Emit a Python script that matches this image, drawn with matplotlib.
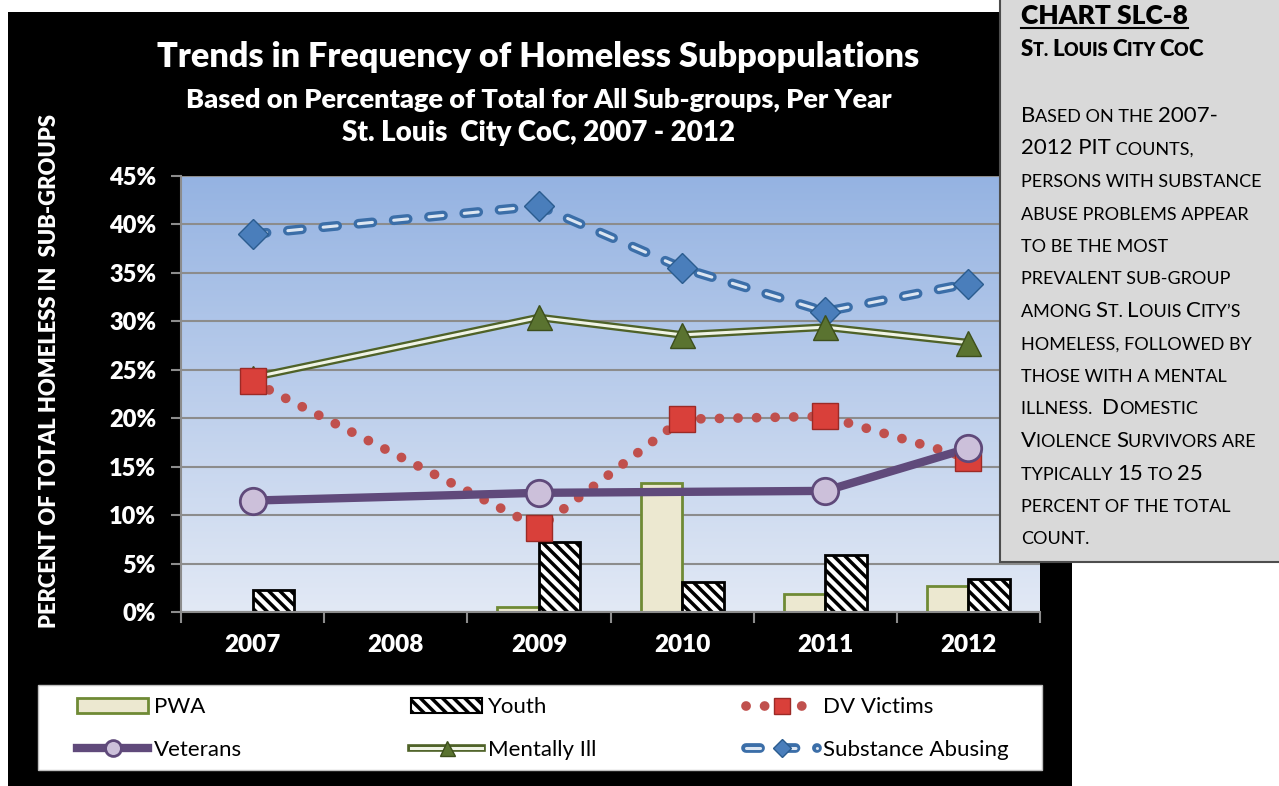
import numpy as np
import matplotlib
matplotlib.use("Agg")
import matplotlib.pyplot as plt
import matplotlib.patheffects as pe
from matplotlib.patches import Rectangle, Patch
from matplotlib.lines import Line2D
from matplotlib.colors import LinearSegmentedColormap

plt.rcParams["font.family"] = ["Lato", "DejaVu Sans"]
plt.rcParams["hatch.linewidth"] = 2.5
plt.rcParams["hatch.color"] = "black"

# data (percent of total homeless in sub-groups), None = no value
years = ["2007", "2008", "2009", "2010", "2011", "2012"]
pwa = [0.0, None, 0.5, 13.3, 1.9, 2.7]
youth = [2.3, None, 7.2, 3.1, 5.9, 3.4]
dv_victims = [23.8, None, 8.7, 19.9, 20.2, 15.9]
veterans = [11.5, None, 12.3, None, 12.5, 16.9]
mentally_ill = [24.2, None, 30.4, 28.6, 29.4, 27.8]
substance = [39.0, None, 41.9, 35.5, 31.0, 33.9]
y_ticks = [0, 5, 10, 15, 20, 25, 30, 35, 40, 45]

W, H = 1279, 786


def fx(px):
    return px / W


def fy(py):
    return 1 - py / H


def present(values):
    idx = [i for i, v in enumerate(values) if v is not None]
    return np.array(idx), np.array([values[i] for i in idx])


fig = plt.figure(figsize=(W / 100, H / 100), dpi=100, facecolor="white")

# black chart panel
fig.add_artist(Rectangle((fx(8), 0), fx(1072) - fx(8), fy(12), transform=fig.transFigure,
                         facecolor="black", edgecolor="none", zorder=-10))

ax = fig.add_axes([fx(181), fy(612), fx(1040) - fx(181), fy(176) - fy(612)])
ax.set_facecolor("none")

# gradient plot background
grad = LinearSegmentedColormap.from_list("bg", ["#e2e9f5", "#95b3e2"])
ax.imshow(np.linspace(0, 1, 256).reshape(-1, 1), cmap=grad, origin="lower",
          extent=[-0.5, 5.5, 0, 45], aspect="auto", zorder=-1)

x = np.arange(len(years))
bw = 0.29

# bars
xi, yv = present(pwa)
ax.bar(xi - 0.145, yv, width=bw, color="#ece8d0", edgecolor="#6f8a35", linewidth=2, zorder=2)
xi, yv = present(youth)
ax.bar(xi + 0.145, yv, width=bw, color="white", edgecolor="black", hatch="\\\\\\",
       linewidth=2, zorder=2)

# substance abusing: blue outlined dashes
xi, yv = present(substance)
sub_line, = ax.plot(xi, yv, color="#dce6f2", lw=2.2, ls=(0, (4.6, 7.0)),
                    dash_capstyle="round", zorder=4,
                    path_effects=[pe.Stroke(linewidth=7, foreground="#3b6ea8"), pe.Normal()])
sub_mk, = ax.plot(xi, yv, ls="none", marker="D", ms=15, mfc="#4a7ebb", mec="#2b5c8f",
                  mew=1, zorder=6)

# mentally ill: double green line
xi, yv = present(mentally_ill)
mi_line, = ax.plot(xi, yv, color="#f0f4e6", lw=2.2, zorder=4,
                   path_effects=[pe.Stroke(linewidth=5.5, foreground="#4f6228"), pe.Normal()])
mi_mk, = ax.plot(xi, yv, ls="none", marker="^", ms=18, mfc="#5a7330", mec="#3d4f1c",
                 mew=1, zorder=6)

# dv victims: red dotted
xi, yv = present(dv_victims)
dv_line, = ax.plot(xi, yv, color="#c0504d", lw=7, ls=(0, (0.01, 1.9)),
                   dash_capstyle="round", zorder=4)
dv_mk, = ax.plot(xi, yv, ls="none", marker="s", ms=19, mfc="#d9403a", mec="#9c2a26",
                 mew=1, zorder=6)

# veterans: thick purple
xi, yv = present(veterans)
vet_line, = ax.plot(xi, yv, color="#604a7b", lw=6, zorder=5)
vet_mk, = ax.plot(xi, yv, ls="none", marker="o", ms=19, mfc="#ccc0da", mec="#5f497a",
                  mew=2, zorder=7)

ax.set_xlim(-0.5, 5.5)
ax.set_ylim(0, 45)
ax.set_yticks(y_ticks)
ax.set_yticklabels([f"{t}%" for t in y_ticks])
ax.set_xticks(x)
ax.set_xticklabels(years)
ax.set_xticks(np.arange(-0.5, 6, 1), minor=True)
ax.yaxis.grid(True, color="#8c8c8c", lw=1.5, zorder=0.5)
ax.set_axisbelow(True)
for s in ["top", "right"]:
    ax.spines[s].set_visible(False)
for s in ["left", "bottom"]:
    ax.spines[s].set_color("#8c8c8c")
    ax.spines[s].set_linewidth(1.5)
ax.tick_params(axis="y", direction="out", length=7, width=1.5, color="#8c8c8c",
               labelcolor="white", labelsize=17, pad=11)
ax.tick_params(axis="x", which="major", length=0, labelcolor="white", labelsize=17.5, pad=16)
ax.tick_params(axis="x", which="minor", direction="out", length=8, width=1.5, color="#8c8c8c")
for lab in ax.get_xticklabels() + ax.get_yticklabels():
    lab.set_fontweight("heavy")

# titles
fig.text(fx(538), fy(57), "Trends in Frequency of Homeless Subpopulations", color="white",
         fontsize=24.7, fontweight="heavy", ha="center", va="center")
fig.text(fx(539), fy(100), "Based on Percentage of Total for All Sub-groups, Per Year",
         color="white", fontsize=19.5, fontweight="heavy", ha="center", va="center")
fig.text(fx(538), fy(133), "St. Louis  City CoC, 2007 - 2012", color="white",
         fontsize=20, fontweight="heavy", ha="center", va="center")
fig.text(fx(50), fy(371), "PERCENT OF TOTAL HOMELESS IN  SUB-GROUPS", color="white",
         fontsize=15.8, fontweight="heavy", rotation=90, ha="center", va="center")

# legend
fig.add_artist(Rectangle((fx(38), fy(770)), fx(1042) - fx(38), fy(685) - fy(770),
                         transform=fig.transFigure, facecolor="white", edgecolor="#bfbfbf",
                         lw=1, zorder=1))
h_pwa = Patch(facecolor="#ece8d0", edgecolor="#6f8a35", linewidth=2)
h_youth = Patch(facecolor="white", edgecolor="black", hatch="\\\\\\", linewidth=1.5)
columns = [
    (77, [h_pwa, (vet_line, vet_mk)], ["PWA", "Veterans"]),
    (411, [h_youth, (mi_line, mi_mk)], ["Youth", "Mentally Ill"]),
    (746, [(dv_line, dv_mk), (sub_line, sub_mk)], ["DV Victims", "Substance Abusing"]),
]
for px, hs, labels in columns:
    leg = fig.legend(hs, labels, loc="center left", bbox_to_anchor=(fx(px), fy(728.5)),
                     frameon=False, fontsize=16, handlelength=3.2, handletextpad=0.25,
                     labelspacing=1.0, borderpad=0, borderaxespad=0, markerscale=0.6)
    leg.set_zorder(2)

# side note box
fig.add_artist(Rectangle((fx(1000), fy(562)), fx(1285) - fx(1000), fy(-5) - fy(562),
                         transform=fig.transFigure, facecolor="#d9d9d9", edgecolor="#4d4d4d",
                         lw=1.5, zorder=5))

renderer = fig.canvas.get_renderer()


def text_width(s, size, weight):
    a = fig.text(0, 0, "|" + s + "|", fontsize=size, fontweight=weight)
    b = fig.text(0, 0, "||", fontsize=size, fontweight=weight)
    w = a.get_window_extent(renderer).width - b.get_window_extent(renderer).width
    a.remove()
    b.remove()
    return w / fig.bbox.width


def small_caps(px, py, parts, big, small, weight="normal"):
    xpos = fx(px)
    for s, is_big in parts:
        size = big if is_big else small
        fig.text(xpos, fy(py), s, fontsize=size, fontweight=weight, color="black",
                 va="baseline", ha="left", zorder=6)
        xpos += text_width(s, size, weight)
    return xpos


fig.text(fx(1021), fy(24), "CHART SLC-8", fontsize=19, fontweight="heavy",
         va="baseline", ha="left", zorder=6)
cw = text_width("CHART SLC-8", 19, "heavy")
fig.add_artist(Line2D([fx(1021), fx(1021) + cw], [fy(28), fy(28)], color="black", lw=1.5,
                      transform=fig.transFigure, zorder=6))
small_caps(1021, 56, [("S", True), ("T. ", False), ("L", True), ("OUIS ", False),
                      ("C", True), ("ITY ", False), ("C", True), ("O", False), ("C", True)],
           16, 13, "heavy")

body = [
    [("B", True), ("ASED ON THE ", False), ("2007-", True)],
    [("2012 PIT", True), (" COUNTS,", False)],
    [("PERSONS WITH SUBSTANCE", False)],
    [("ABUSE PROBLEMS APPEAR", False)],
    [("TO BE THE MOST", False)],
    [("PREVALENT SUB-GROUP", False)],
    [("AMONG ", False), ("S", True), ("T. ", False), ("L", True), ("OUIS ", False),
     ("C", True), ("ITY\u2019S", False)],
    [("HOMELESS, FOLLOWED BY", False)],
    [("THOSE WITH A MENTAL", False)],
    [("ILLNESS.  ", False), ("D", True), ("OMESTIC", False)],
    [("V", True), ("IOLENCE ", False), ("S", True), ("URVIVORS ARE", False)],
    [("TYPICALLY ", False), ("15", True), (" TO ", False), ("25", True)],
    [("PERCENT OF THE TOTAL", False)],
    [("COUNT.", False)],
]
for i, parts in enumerate(body):
    small_caps(1021, 122 + i * 32.5, parts, 16, 13)

fig.savefig("out.png", dpi=100, facecolor="white")
